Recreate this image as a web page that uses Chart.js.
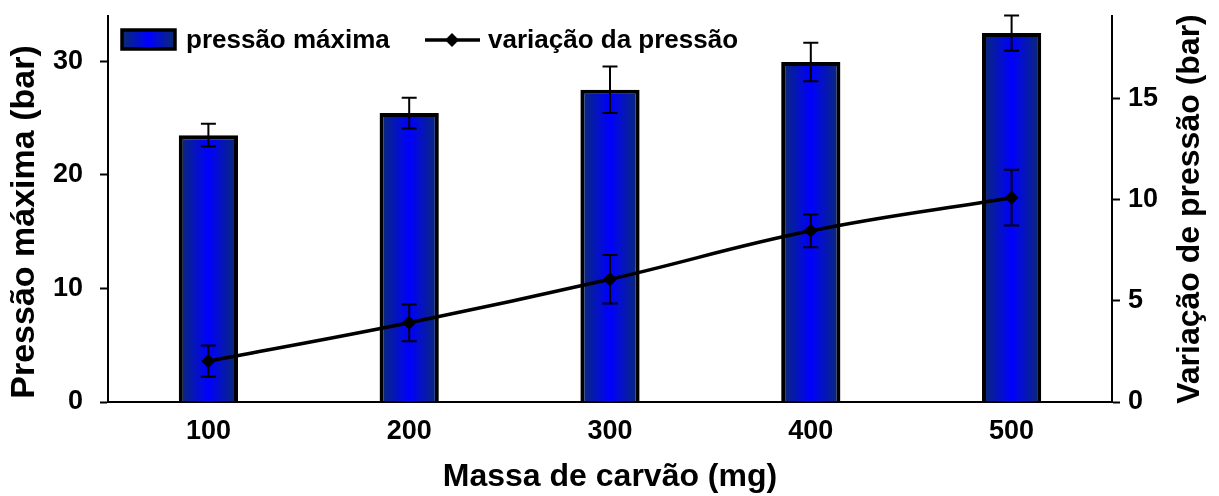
<!DOCTYPE html>
<html>
<head>
<meta charset="utf-8">
<script src="https://cdn.jsdelivr.net/npm/chart.js@4.4.1/dist/chart.umd.min.js"></script>
<style>
  html, body { margin: 0; padding: 0; background: #fff; }
  #wrap { width: 1219px; height: 496px; position: relative; }
</style>
</head>
<body>
<div id="wrap"><canvas id="grafico"></canvas></div>
<script>
// Massa de carvão (mg)
const categorias = ['100', '200', '300', '400', '500'];
// Pressão máxima (bar) e desvio
const pressaoMaxima = [23.5, 25.45, 27.5, 29.95, 32.5];
const pressaoMaximaErro = [1.0, 1.35, 2.05, 1.7, 1.55];
// Variação de pressão (bar) e desvio
const variacaoPressao = [2.02, 3.92, 6.07, 8.47, 10.11];
const variacaoPressaoErro = [0.77, 0.91, 1.2, 0.81, 1.38];
// Marcas dos eixos
const ticksEsquerda = [0, 10, 20, 30];
const ticksDireita = [0, 5, 10, 15];

const rotuloBarras = 'pressão máxima';
const rotuloLinha = 'variação da pressão';
const tituloX = 'Massa de carvão (mg)';
const tituloY = 'Pressão máxima (bar)';
const tituloY2 = 'Variação de pressão (bar)';

const FONTE = '"Liberation Sans", Arial, Helvetica, sans-serif';
const FRACAO_BARRA = 0.295;

function gradienteAzul(ctx, x0, x1) {
  const g = ctx.createLinearGradient(x0, 0, x1, 0);
  g.addColorStop(0, '#0a2c6c');
  g.addColorStop(0.5, '#0000ff');
  g.addColorStop(1, '#0a2c6c');
  return g;
}

// Tamanho fixo de cada eixo, sem folga extra para os rótulos
function tamanhoFixo(prop, valor) {
  return (s) => {
    s[prop] = valor;
    s.paddingTop = 0; s.paddingBottom = 0; s.paddingLeft = 0; s.paddingRight = 0;
  };
}

// Barras de erro desenhadas logo após cada conjunto de dados
const barrasDeErro = {
  id: 'barrasDeErro',
  afterDatasetDraw(chart, args) {
    const ds = chart.data.datasets[args.index];
    if (!ds.erros) return;
    const meta = args.meta;
    const escala = chart.scales[meta.yAxisID];
    const ctx = chart.ctx;
    ctx.save();
    ctx.strokeStyle = '#000';
    ctx.lineWidth = 2;
    meta.data.forEach((el, i) => {
      const v = ds.data[i], e = ds.erros[i];
      const yTopo = escala.getPixelForValue(v + e);
      const yBase = escala.getPixelForValue(v - e);
      const x = el.x, cap = 7.5;
      ctx.beginPath();
      ctx.moveTo(x, yTopo); ctx.lineTo(x, yBase);
      ctx.moveTo(x - cap, yTopo); ctx.lineTo(x + cap, yTopo);
      ctx.moveTo(x - cap, yBase); ctx.lineTo(x + cap, yBase);
      ctx.stroke();
    });
    ctx.restore();
  }
};

function tituloVertical(ctx, texto, x, y, tamanho) {
  ctx.save();
  ctx.translate(x, y);
  ctx.rotate(-Math.PI / 2);
  ctx.font = 'bold ' + tamanho + 'px ' + FONTE;
  ctx.fillStyle = '#000';
  ctx.textAlign = 'center';
  ctx.textBaseline = 'middle';
  ctx.fillText(texto, 0, 0);
  ctx.restore();
}

// Legenda e títulos dos eixos verticais (lidos de baixo para cima)
const extras = {
  id: 'extras',
  afterDraw(chart) {
    const ctx = chart.ctx;
    ctx.save();
    // legenda das barras
    const bx = 122, by = 30, bw = 53, bh = 19;
    ctx.fillStyle = gradienteAzul(ctx, bx, bx + bw);
    ctx.fillRect(bx, by, bw, bh);
    ctx.lineWidth = 3.5;
    ctx.strokeStyle = '#000';
    ctx.strokeRect(bx, by, bw, bh);
    ctx.fillStyle = '#000';
    ctx.font = 'bold 26px ' + FONTE;
    ctx.textBaseline = 'alphabetic';
    ctx.textAlign = 'left';
    ctx.fillText(rotuloBarras, 186, 48);
    // legenda da linha
    ctx.beginPath();
    ctx.lineWidth = 3.5;
    ctx.moveTo(425, 40); ctx.lineTo(480, 40);
    ctx.stroke();
    ctx.beginPath();
    ctx.moveTo(452, 33); ctx.lineTo(459, 40); ctx.lineTo(452, 47); ctx.lineTo(445, 40);
    ctx.closePath();
    ctx.fill();
    ctx.fillText(rotuloLinha, 488, 48);
    ctx.restore();
    // títulos dos eixos verticais
    const area = chart.chartArea;
    tituloVertical(ctx, tituloY, 25, 222, 34);
    tituloVertical(ctx, tituloY2, 1190, (area.top + area.bottom) / 2, 32);
  }
};

const fonteTicks = { family: FONTE, size: 27, weight: 'bold' };
const fonteTitulo = { family: FONTE, size: 32, weight: 'bold' };

new Chart(document.getElementById('grafico'), {
  data: {
    labels: categorias,
    datasets: [
      {
        type: 'line',
        label: rotuloLinha,
        data: variacaoPressao,
        erros: variacaoPressaoErro,
        yAxisID: 'y1',
        order: 0,
        borderColor: '#000',
        borderWidth: 3.5,
        backgroundColor: '#000',
        pointStyle: 'rectRot',
        pointRadius: 7,
        pointBorderWidth: 0,
        pointBackgroundColor: '#000',
        tension: 0.4,
        fill: false
      },
      {
        type: 'bar',
        label: rotuloBarras,
        data: pressaoMaxima,
        erros: pressaoMaximaErro,
        yAxisID: 'y',
        order: 1,
        barPercentage: FRACAO_BARRA,
        categoryPercentage: 1,
        borderColor: '#000',
        borderWidth: 4,
        borderSkipped: 'start',
        backgroundColor: (c) => {
          const chart = c.chart;
          const xs = chart.scales && chart.scales.x;
          if (!xs || c.dataIndex === undefined) return '#0010d0';
          const x = xs.getPixelForValue(c.dataIndex);
          const w = xs.width / categorias.length * FRACAO_BARRA;
          if (!isFinite(x) || !isFinite(w) || w <= 0) return '#0010d0';
          return gradienteAzul(chart.ctx, x - w / 2, x + w / 2);
        }
      }
    ]
  },
  options: {
    responsive: true,
    maintainAspectRatio: false,
    animation: false,
    layout: { autoPadding: false, padding: { top: 16, left: 0, right: 0, bottom: 0 } },
    plugins: {
      legend: { display: false },
      tooltip: { enabled: false }
    },
    scales: {
      x: {
        type: 'category',
        offset: true,
        afterFit: tamanhoFixo('height', 94),
        grid: { drawOnChartArea: false, drawTicks: false },
        border: { display: true, color: '#000', width: 2 },
        ticks: { color: '#000', font: fonteTicks, padding: 13 },
        title: { display: true, text: tituloX, color: '#000', font: fonteTitulo, padding: { top: 0, bottom: 0 } }
      },
      y: {
        position: 'left',
        min: 0,
        max: 34,
        afterFit: tamanhoFixo('width', 108),
        afterBuildTicks: (s) => { s.ticks = ticksEsquerda.map(v => ({ value: v })); },
        grid: { drawOnChartArea: false, drawTicks: true, tickLength: 8, tickColor: '#000', tickWidth: 2 },
        border: { display: true, color: '#000', width: 2 },
        ticks: { color: '#000', font: fonteTicks, padding: 17 },
        title: { display: false }
      },
      y1: {
        position: 'right',
        min: 0,
        max: 19.1,
        afterFit: tamanhoFixo('width', 107),
        afterBuildTicks: (s) => { s.ticks = ticksDireita.map(v => ({ value: v })); },
        grid: { drawOnChartArea: false, drawTicks: true, tickLength: 8, tickColor: '#000', tickWidth: 2 },
        border: { display: true, color: '#000', width: 2 },
        ticks: { color: '#000', font: fonteTicks, padding: 8 },
        title: { display: false }
      }
    }
  },
  plugins: [barrasDeErro, extras]
});
</script>
</body>
</html>
